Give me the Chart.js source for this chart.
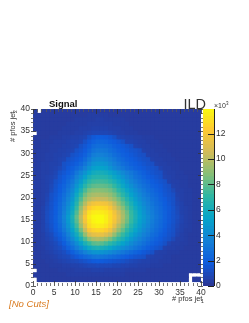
<!DOCTYPE html>
<html>
<head>
<meta charset="utf-8">
<style>
  body { margin: 0; background: #fff; }
  canvas { position: absolute; left: 0; top: 0; }
</style>
<script src="https://cdn.jsdelivr.net/npm/chart.js@4"></script>
</head>
<body>
<canvas id="mapa" width="249" height="323"></canvas>
<canvas id="barra" width="249" height="323"></canvas>
<script>
// entries per bin, in hundreds. first line is y bin 39, last is y bin 0. 0 = empty bin
const counts = [
  [2,0,2,2,2,2,2,2,2,2,2,2,2,2,2,2,2,2,2,2,2,2,2,2,2,2,2,2,2,2,2,2,2,2,2,2,2,2,2,2],
  [2,2,2,2,2,2,2,2,2,2,2,2,2,3,3,3,3,3,2,2,2,2,2,2,2,2,2,2,2,2,2,2,2,2,2,2,2,2,2,2],
  [2,2,2,2,2,2,2,2,2,2,3,3,3,3,3,4,4,3,3,3,3,3,2,2,2,2,2,2,2,2,2,2,2,2,2,2,2,2,2,2],
  [2,2,2,2,2,2,2,2,3,3,3,3,3,4,4,4,4,4,4,3,3,3,3,2,2,2,2,2,2,2,2,2,2,2,2,2,2,2,2,2],
  [2,2,2,2,2,2,2,3,3,3,3,4,4,4,5,5,5,5,4,4,4,3,3,3,2,2,2,2,2,2,2,2,2,2,2,2,2,2,2,2],
  [0,2,2,2,2,2,3,3,3,3,4,4,5,6,7,7,7,7,6,5,4,4,3,3,3,2,2,2,2,2,2,2,2,2,2,2,2,2,2,2],
  [2,2,2,2,3,3,3,4,4,5,5,6,7,12,16,18,18,17,15,12,7,6,5,5,4,4,3,3,3,2,2,2,2,2,2,2,2,2,2,2],
  [2,2,3,3,3,4,4,4,5,6,6,7,12,16,20,22,22,21,19,17,15,12,6,6,5,4,4,3,3,3,2,2,2,2,2,2,2,2,2,2],
  [2,2,3,3,4,4,4,5,5,6,7,12,15,19,24,26,26,25,23,20,18,16,14,12,6,5,4,4,3,3,3,2,2,2,2,2,2,2,2,2],
  [2,3,3,3,4,4,5,5,6,7,12,14,17,22,28,30,30,29,26,23,20,18,16,14,13,11,5,4,4,3,3,3,2,2,2,2,2,2,2,2],
  [2,3,3,4,4,5,5,6,7,12,14,16,20,26,33,35,35,33,30,26,23,20,18,16,14,12,11,5,4,4,3,3,3,2,2,2,2,2,2,2],
  [2,3,3,4,4,5,6,7,12,14,16,19,24,31,38,40,40,38,34,30,26,23,20,18,16,14,12,11,5,4,4,3,3,3,2,2,2,2,2,2],
  [2,3,4,4,5,5,6,12,14,16,19,23,29,37,44,46,46,44,39,34,30,26,23,20,18,16,14,12,11,5,4,4,3,3,3,2,2,2,2,2],
  [3,3,4,4,5,6,8,12,16,19,23,28,35,43,50,52,52,50,44,38,34,30,26,23,20,18,16,14,13,11,6,4,4,3,3,2,2,2,2,2],
  [3,3,4,4,5,7,12,15,18,22,30,37,44,52,58,60,60,58,54,49,44,39,34,30,26,22,19,16,14,12,11,5,4,4,3,3,2,2,2,2],
  [3,3,4,5,6,8,14,17,21,26,35,42,51,60,65,66,66,65,61,55,50,44,38,33,28,25,21,18,16,14,12,6,5,4,3,3,3,2,2,2],
  [3,3,4,5,7,12,15,19,24,30,40,48,59,68,72,73,73,72,68,62,56,50,43,37,32,28,24,21,18,16,14,12,5,4,4,3,3,2,2,2],
  [3,3,4,5,8,13,17,21,27,34,45,55,67,75,79,80,80,79,76,70,62,55,48,42,36,31,27,24,20,18,16,13,11,5,4,3,3,2,2,2],
  [3,3,4,5,9,14,18,23,30,38,50,62,75,84,87,88,87,86,83,77,69,62,54,47,41,35,30,26,23,20,17,14,12,8,4,4,3,3,2,2],
  [3,3,4,6,12,15,20,26,33,42,56,70,83,92,95,96,95,94,90,84,76,68,60,52,45,39,33,29,25,22,19,15,13,11,5,4,3,3,2,2],
  [3,3,4,7,12,16,21,28,36,46,61,76,90,98,102,104,103,102,97,91,83,75,66,57,49,42,36,32,27,24,20,17,14,12,6,4,3,3,2,2],
  [3,3,4,8,13,17,23,30,39,50,66,83,98,112,117,119,118,117,111,101,90,81,72,62,53,46,39,34,29,25,22,18,15,12,7,5,3,3,2,2],
  [3,3,5,9,13,18,24,32,42,54,71,90,107,122,127,129,128,126,120,109,98,88,77,67,57,49,42,36,31,27,23,19,16,13,8,5,4,3,2,2],
  [3,3,5,10,14,18,25,34,45,58,76,96,115,130,134,135,134,132,127,117,105,94,82,71,61,52,44,38,33,28,24,20,16,13,9,5,4,3,2,2],
  [3,3,5,10,14,19,26,36,48,62,80,100,120,133,138,139,139,135,128,120,108,96,84,72,62,53,46,40,34,29,25,20,16,13,10,6,4,3,2,2],
  [3,3,5,10,14,19,26,35,47,61,78,98,118,131,137,139,139,135,128,118,106,94,82,71,61,52,45,39,33,28,24,20,16,13,9,6,4,3,2,2],
  [3,3,5,9,13,18,24,33,44,57,73,92,111,128,133,135,134,131,125,112,98,87,76,66,57,49,42,37,31,27,23,19,15,12,8,5,4,3,2,2],
  [2,3,5,8,12,17,22,30,40,52,66,83,102,120,125,127,126,123,116,102,90,80,70,61,53,46,39,34,29,25,21,17,14,12,7,5,3,3,2,2],
  [2,3,4,7,9,15,19,26,35,46,58,73,90,106,112,114,113,109,102,90,79,71,62,54,47,41,35,31,26,23,19,16,13,11,6,4,3,2,2,2],
  [2,3,4,6,8,12,16,22,30,39,50,62,76,88,95,97,95,91,84,76,69,62,54,47,41,36,31,27,23,20,17,14,12,8,4,4,3,2,2,2],
  [2,3,4,5,7,9,13,18,25,32,41,51,62,71,78,80,78,74,69,63,57,52,46,40,35,31,27,23,20,17,15,12,6,4,4,3,3,2,2,2],
  [2,3,3,5,6,8,10,14,20,26,33,40,48,56,61,63,61,58,54,49,45,41,37,33,29,26,22,19,16,14,12,5,4,4,3,3,2,2,2,2],
  [2,2,3,4,5,7,8,10,14,19,24,29,35,40,44,45,44,42,39,36,33,30,27,24,21,19,16,14,12,5,4,4,3,3,3,2,2,2,2,2],
  [2,2,3,3,4,5,7,8,9,13,16,20,23,26,29,30,29,28,26,24,22,20,18,16,14,13,12,6,5,4,4,3,3,2,2,2,2,2,2,2],
  [2,2,2,3,3,4,5,6,7,8,9,11,13,15,17,18,17,16,15,14,13,12,10,8,7,6,5,5,4,4,3,3,3,2,2,2,2,2,2,2],
  [2,2,2,2,3,3,3,4,4,5,5,6,7,8,8,9,8,8,8,7,7,6,6,5,5,4,4,4,3,3,3,2,2,2,2,2,2,2,2,2],
  [0,2,2,2,2,2,3,3,3,3,4,4,4,4,5,5,5,4,4,4,4,4,3,3,3,3,3,2,2,2,2,2,2,2,2,2,2,2,2,2],
  [2,2,2,2,2,2,2,2,3,3,3,3,3,3,3,3,3,3,3,3,3,3,2,2,2,2,2,2,2,2,2,2,2,2,2,2,2,0,0,0],
  [0,2,2,2,2,2,2,2,2,2,2,2,2,2,2,2,2,2,2,2,2,2,2,2,2,2,2,2,2,2,2,2,2,2,2,2,2,0,2,2],
  [0,0,0,0,0,0,0,0,0,0,0,0,0,0,0,0,0,0,0,0,0,0,0,0,0,0,0,0,0,0,0,0,0,0,0,0,0,0,0,0],
];

const xLabels = [0, 5, 10, 15, 20, 25, 30, 35, 40];
const zLabels = [0, 2, 4, 6, 8, 10, 12];
const zMax = 13.95;

// colour steps of the palette
const stops = [
  [42, 56, 152], [15, 92, 221], [20, 129, 214], [6, 164, 202], [46, 183, 164],
  [135, 191, 119], [209, 187, 89], [254, 200, 50], [249, 251, 14],
];

function corDoValor(z) {
  let t = Math.min(z / zMax, 0.9999) * (stops.length - 1);
  let i = Math.floor(t);
  let f = t - i;
  let c = stops[i].map((v, k) => Math.round(v + (stops[i + 1][k] - v) * f));
  return `rgb(${c[0]},${c[1]},${c[2]})`;
}

// ticks of the frame go on top of the bins, like ROOT draws them
const ticksMapa = {
  id: "ticksMapa",
  afterDatasetsDraw(chart) {
    const { ctx, chartArea: a, scales } = chart;
    ctx.save();
    ctx.lineWidth = 0.8;
    for (let i = 0; i <= 40; i++) {
      let major = i % 5 === 0;
      let px = Math.round(scales.x.getPixelForValue(i)) + 0.5;
      let py = Math.round(scales.y.getPixelForValue(i)) + 0.5;
      let len = major ? 5 : 3;
      ctx.strokeStyle = major ? "#333" : "#555";
      ctx.beginPath();
      ctx.moveTo(px, a.bottom); ctx.lineTo(px, a.bottom - len);
      ctx.moveTo(px, a.top); ctx.lineTo(px, a.top + len);
      ctx.moveTo(a.left - 2, py); ctx.lineTo(a.left - 2 + len, py);
      ctx.moveTo(a.right + 2, py); ctx.lineTo(a.right + 2 - len, py);
      ctx.stroke();
    }
    ctx.restore();

    ctx.save();
    ctx.fillStyle = "#111";
    ctx.font = "bold 9.5px 'Liberation Sans'";
    ctx.fillText("Signal", 49, 107);
    ctx.fillStyle = "#333";
    ctx.font = "14.5px 'Liberation Sans'";
    ctx.textAlign = "right";
    ctx.fillText("ILD", 206, 109);
    ctx.textAlign = "left";
    ctx.fillStyle = "#d97a1e";
    ctx.font = "italic 9.6px 'Liberation Sans'";
    ctx.fillText("[No Cuts]", 9, 307);
    ctx.fillStyle = "#333";
    ctx.font = "7.5px 'Liberation Sans'";
    ctx.fillText("# pfos jet", 172, 301);
    ctx.font = "5px 'Liberation Sans'";
    ctx.fillText("1", 201, 303);
    ctx.translate(15, 142);
    ctx.rotate(-Math.PI / 2);
    ctx.font = "7.5px 'Liberation Sans'";
    ctx.fillText("# pfos jet", 0, 0);
    ctx.font = "5px 'Liberation Sans'";
    ctx.fillText("2", 29, 2);
    ctx.restore();
  },
};

const ticksBarra = {
  id: "ticksBarra",
  afterDatasetsDraw(chart) {
    const { ctx, chartArea: a, scales } = chart;
    ctx.save();
    ctx.strokeStyle = "#222";
    ctx.beginPath();
    ctx.moveTo(a.right + 0.5, a.top); ctx.lineTo(a.right + 0.5, a.bottom);
    zLabels.forEach((z) => {
      let py = Math.round(scales.y.getPixelForValue(z)) + 0.5;
      ctx.moveTo(a.right, py); ctx.lineTo(a.right - 6, py);
    });
    ctx.stroke();
    ctx.fillStyle = "#333";
    ctx.font = "7px 'Liberation Sans'";
    ctx.fillText("×10", 214, 108);
    ctx.font = "4.5px 'Liberation Sans'";
    ctx.fillText("3", 226, 105);
    ctx.restore();
  },
};

const pontos = [];
const cores = [];
counts.forEach((linha, i) => {
  let r = counts.length - 1 - i;
  linha.forEach((n, c) => {
    if (n === 0) return;
    pontos.push({ x: c + 0.5, y: [r, r + 1] });
    cores.push(corDoValor(n / 10));
  });
});

const fonteTicks = { family: "'Liberation Sans'", size: 8.5 };

new Chart(document.getElementById("mapa"), {
  type: "bar",
  data: {
    datasets: [
      {
        data: pontos,
        backgroundColor: cores,
        borderWidth: 0,
        inflateAmount: 0.5,
        barPercentage: 1,
        categoryPercentage: 1,
      },
    ],
  },
  plugins: [ticksMapa],
  options: {
    responsive: false,
    animation: false,
    layout: { padding: { top: 109, right: 48, left: 0, bottom: 0 } },
    plugins: { legend: { display: false }, tooltip: { enabled: false } },
    scales: {
      x: {
        type: "linear",
        offset: false,
        min: 0,
        max: 40,
        afterFit: (s) => { s.height = 37; },
        grid: { display: false, drawTicks: false },
        border: { display: false },
        ticks: {
          stepSize: 5,
          padding: 2,
          maxRotation: 0,
          color: "#333",
          font: fonteTicks,
          callback: (v) => (xLabels.includes(v) ? v : ""),
        },
      },
      y: {
        min: 0,
        max: 40,
        afterFit: (s) => { s.width = 33; },
        grid: { display: false, drawTicks: false },
        border: { display: false },
        ticks: { stepSize: 5, padding: 3, color: "#333", font: fonteTicks },
      },
    },
  },
});

// colour scale, one bar per contour level
const niveis = [
  0, 0.28, 0.56, 0.84, 1.12, 1.4, 1.68, 1.96, 2.24, 2.52, 2.8, 3.08, 3.36, 3.64, 3.92, 4.2, 4.48,
  4.76, 5.04, 5.32, 5.6, 5.88, 6.16, 6.44, 6.72, 7, 7.28, 7.56, 7.84, 8.12, 8.4, 8.68, 8.96, 9.24,
  9.52, 9.8, 10.08, 10.36, 10.64, 10.92, 11.2, 11.48, 11.76, 12.04, 12.32, 12.6, 12.88, 13.16,
  13.44, 13.72, 13.95,
];
const barras = niveis.slice(0, -1).map((z, i) => ({ x: "z", y: [z, niveis[i + 1]] }));
const coresBarra = niveis.slice(0, -1).map((z) => corDoValor(z));

new Chart(document.getElementById("barra"), {
  type: "bar",
  data: {
    labels: ["z"],
    datasets: [
      {
        data: barras,
        backgroundColor: coresBarra,
        borderWidth: 0,
        inflateAmount: 0.5,
        barPercentage: 1,
        categoryPercentage: 1,
      },
    ],
  },
  plugins: [ticksBarra],
  options: {
    responsive: false,
    animation: false,
    layout: { padding: { top: 109, right: 0, left: 203, bottom: 37 } },
    plugins: { legend: { display: false }, tooltip: { enabled: false } },
    scales: {
      x: { display: false },
      y: {
        position: "right",
        min: 0,
        max: zMax,
        afterFit: (s) => { s.width = 35; },
        afterBuildTicks: (s) => { s.ticks = zLabels.map((v) => ({ value: v })); },
        grid: { display: false, drawTicks: false },
        border: { display: false },
        ticks: { padding: 2, color: "#333", font: fonteTicks },
      },
    },
  },
});
</script>
</body>
</html>
